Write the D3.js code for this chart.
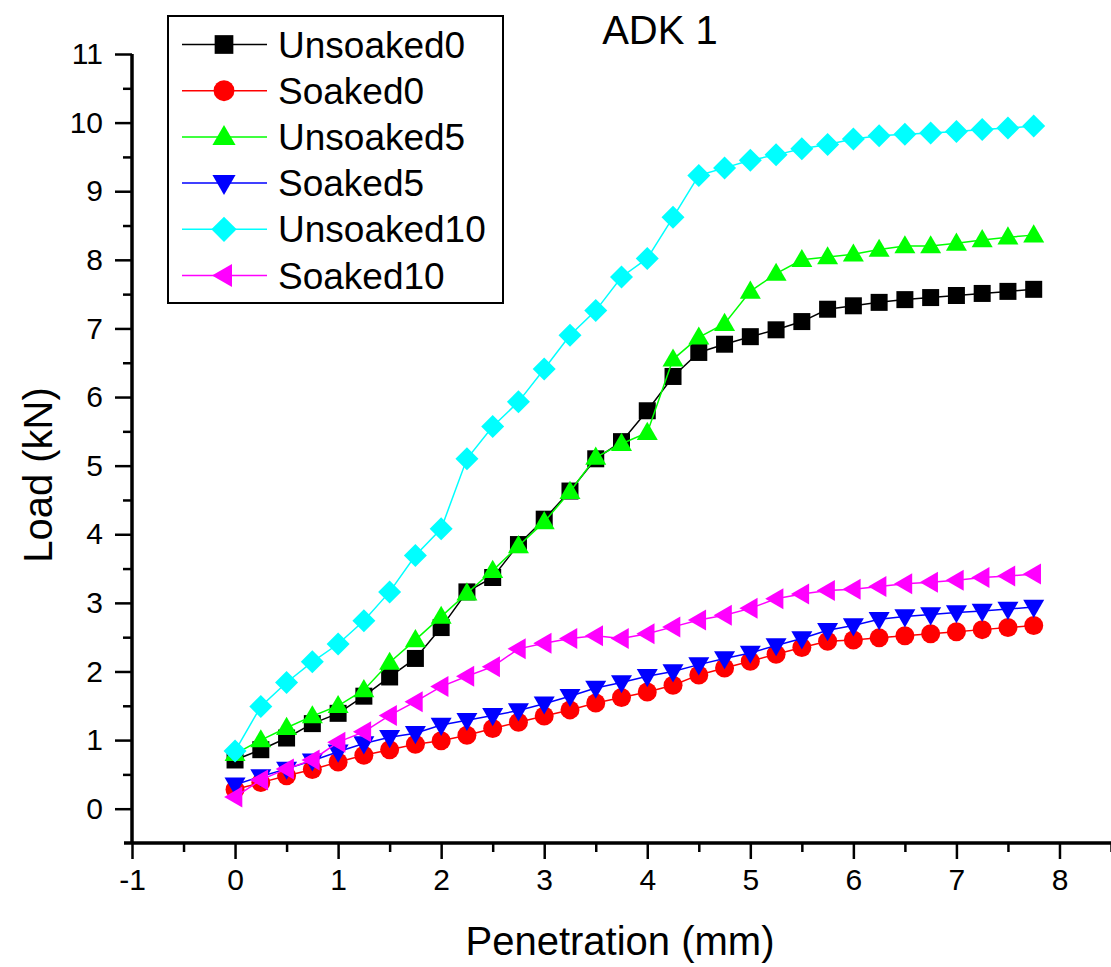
<!DOCTYPE html>
<html>
<head>
<meta charset="utf-8">
<script src="https://cdn.jsdelivr.net/npm/d3@7"></script>
<style>
  body { margin: 0; background: #fff; }
  svg { display: block; font-family: "Liberation Sans", Arial, sans-serif; }
</style>
</head>
<body>
<div id="chart-container"></div>
<script>
// Penetration values (mm)
const penetration = [0, 0.25, 0.5, 0.75, 1, 1.25, 1.5, 1.75, 2, 2.25, 2.5, 2.75, 3, 3.25, 3.5, 3.75,
  4, 4.25, 4.5, 4.75, 5, 5.25, 5.5, 5.75, 6, 6.25, 6.5, 6.75, 7, 7.25, 7.5, 7.75];

// Load values (kN)
const unsoaked0 = [0.71, 0.86, 1.03, 1.24, 1.39, 1.64, 1.92, 2.19, 2.64, 3.16, 3.37, 3.85, 4.22, 4.63, 5.1, 5.35,
  5.8, 6.3, 6.65, 6.77, 6.88, 6.98, 7.1, 7.28, 7.33, 7.38, 7.42, 7.45, 7.48, 7.51, 7.54, 7.57];
const soaked0 = [0.28, 0.38, 0.48, 0.57, 0.68, 0.78, 0.86, 0.94, 0.99, 1.07, 1.17, 1.26, 1.35, 1.44, 1.54, 1.62,
  1.7, 1.8, 1.95, 2.05, 2.15, 2.25, 2.35, 2.44, 2.46, 2.49, 2.52, 2.55, 2.58, 2.61, 2.64, 2.67];
const unsoaked5 = [0.8, 1.0, 1.18, 1.35, 1.5, 1.73, 2.13, 2.46, 2.8, 3.14, 3.47, 3.83, 4.18, 4.62, 5.12, 5.32,
  5.48, 6.55, 6.87, 7.07, 7.54, 7.8, 8.0, 8.04, 8.08, 8.15, 8.2, 8.2, 8.24, 8.29, 8.33, 8.36];
const soaked5 = [0.35, 0.47, 0.58, 0.7, 0.83, 0.95, 1.04, 1.1, 1.22, 1.29, 1.36, 1.43, 1.53, 1.64, 1.76, 1.84,
  1.93, 2.0, 2.1, 2.19, 2.27, 2.38, 2.48, 2.6, 2.67, 2.76, 2.8, 2.83, 2.86, 2.88, 2.91, 2.94];
const unsoaked10 = [0.84, 1.49, 1.84, 2.14, 2.4, 2.74, 3.16, 3.69, 4.08, 5.1, 5.57, 5.93, 6.41, 6.9, 7.26, 7.75,
  8.02, 8.62, 9.23, 9.34, 9.45, 9.53, 9.62, 9.68, 9.76, 9.81, 9.83, 9.85, 9.87, 9.9, 9.92, 9.95];
const soaked10 = [0.17, 0.42, 0.58, 0.71, 0.97, 1.12, 1.36, 1.56, 1.78, 1.93, 2.07, 2.33, 2.41, 2.48, 2.52, 2.48,
  2.55, 2.65, 2.75, 2.82, 2.92, 3.06, 3.13, 3.18, 3.2, 3.24, 3.28, 3.3, 3.33, 3.37, 3.39, 3.42];

const seriesNames = ["Unsoaked0", "Soaked0", "Unsoaked5", "Soaked5", "Unsoaked10", "Soaked10"];
const seriesValues = [unsoaked0, soaked0, unsoaked5, soaked5, unsoaked10, soaked10];
const seriesColors = ["#000000", "#ff0000", "#00ff00", "#0000ff", "#00ffff", "#ff00ff"];

const xTicks = [-1, 0, 1, 2, 3, 4, 5, 6, 7, 8];
const yTicks = [0, 1, 2, 3, 4, 5, 6, 7, 8, 9, 10, 11];

// marker shapes, size = half width
const square = { draw(c, r) { c.rect(-r, -r, 2 * r, 2 * r); } };
const circle = { draw(c, r) { c.moveTo(r, 0); c.arc(0, 0, r, 0, 2 * Math.PI); } };
const triUp = { draw(c, r) { const h = r * 1.73; c.moveTo(0, -h * 0.6); c.lineTo(r, h * 0.4); c.lineTo(-r, h * 0.4); c.closePath(); } };
const triDown = { draw(c, r) { const h = r * 1.73; c.moveTo(0, h * 0.6); c.lineTo(r, -h * 0.4); c.lineTo(-r, -h * 0.4); c.closePath(); } };
const diamond = { draw(c, r) { c.moveTo(0, -r); c.lineTo(r, 0); c.lineTo(0, r); c.lineTo(-r, 0); c.closePath(); } };
const triLeft = { draw(c, r) { const h = r * 1.73; c.moveTo(-h * 0.6, 0); c.lineTo(h * 0.4, -r); c.lineTo(h * 0.4, r); c.closePath(); } };
const seriesShapes = [square, circle, triUp, triDown, diamond, triLeft];
const seriesSizes = [8.5, 9.5, 10.5, 10.5, 11.5, 10.5];

const width = 1111, height = 967;
const svg = d3.select("#chart-container")
  .append("svg")
  .attr("width", width)
  .attr("height", height);

const x = d3.scaleLinear().domain([-1, 8.5]).range([132, 1111]);
const y = d3.scaleLinear().domain([-0.5, 11]).range([843, 54]);

// plain hyphen for negatives, like the original
const fmt = d => String(d);

// minor ticks
svg.append("g")
  .attr("transform", `translate(0,${y(-0.5)})`)
  .call(d3.axisBottom(x).tickValues(d3.range(-0.5, 8.6, 1)).tickSize(9).tickFormat(""))
  .call(g => g.select(".domain").remove())
  .call(g => g.selectAll("line").attr("stroke-width", 2.5));
svg.append("g")
  .attr("transform", `translate(${x(-1)},0)`)
  .call(d3.axisLeft(y).tickValues(d3.range(0.5, 11, 1)).tickSize(9).tickFormat(""))
  .call(g => g.select(".domain").remove())
  .call(g => g.selectAll("line").attr("stroke-width", 2.5));

// X axis
svg.append("g")
  .attr("transform", `translate(0,${y(-0.5)})`)
  .call(d3.axisBottom(x).tickValues(xTicks).tickFormat(fmt).tickSizeInner(16).tickSizeOuter(0).tickPadding(10))
  .call(g => g.select(".domain").attr("stroke-width", 3.5).attr("d", `M124,0H1111`))
  .call(g => g.selectAll("line").attr("stroke-width", 2.5))
  .call(g => g.selectAll("text").attr("fill", "#000").style("font-size", "30px")
    .style("font-family", "'Liberation Sans', Arial, sans-serif"));

// Y axis
svg.append("g")
  .attr("transform", `translate(${x(-1)},0)`)
  .call(d3.axisLeft(y).tickValues(yTicks).tickFormat(fmt).tickSizeInner(17).tickSizeOuter(0).tickPadding(12))
  .call(g => g.select(".domain").attr("stroke-width", 3.5).attr("d", `M0,${y(-0.5)}V${y(11)}`))
  .call(g => g.selectAll("line").attr("stroke-width", 2.5))
  .call(g => g.selectAll("text").attr("fill", "#000").style("font-size", "30px")
    .style("font-family", "'Liberation Sans', Arial, sans-serif"));

// Series
const line = d3.line().x(d => x(d[0])).y(d => y(d[1]));
seriesValues.forEach((vals, i) => {
  const pts = penetration.map((p, j) => [p, vals[j]]);
  const g = svg.append("g");
  g.append("path")
    .datum(pts)
    .attr("fill", "none")
    .attr("stroke", seriesColors[i])
    .attr("stroke-width", 1.5)
    .attr("d", line);
  g.selectAll("path.mark")
    .data(pts)
    .enter().append("path")
    .attr("class", "mark")
    .attr("transform", d => `translate(${x(d[0])},${y(d[1])})`)
    .attr("fill", seriesColors[i])
    .attr("d", d3.symbol().type(seriesShapes[i]).size(seriesSizes[i]));
});

// Legend
const legend = svg.append("g");
legend.append("rect")
  .attr("x", 168).attr("y", 16)
  .attr("width", 335).attr("height", 287)
  .attr("fill", "#fff")
  .attr("stroke", "#000")
  .attr("stroke-width", 2);
seriesNames.forEach((name, i) => {
  const ly = 44.5 + i * 46.2;
  legend.append("line")
    .attr("x1", 182).attr("x2", 267)
    .attr("y1", ly).attr("y2", ly)
    .attr("stroke", seriesColors[i])
    .attr("stroke-width", 1.5);
  legend.append("path")
    .attr("transform", `translate(224,${ly})`)
    .attr("fill", seriesColors[i])
    .attr("d", d3.symbol().type(seriesShapes[i]).size(seriesSizes[i] * 1.1));
  legend.append("text")
    .attr("x", 278).attr("y", ly + 13)
    .style("font-size", "37px")
    .text(name);
});

// Title
svg.append("text")
  .attr("x", 660).attr("y", 44)
  .attr("text-anchor", "middle")
  .style("font-size", "40px")
  .text("ADK 1");

// Axis labels
svg.append("text")
  .attr("x", 620).attr("y", 955)
  .attr("text-anchor", "middle")
  .style("font-size", "40px")
  .text("Penetration (mm)");

svg.append("text")
  .attr("transform", "translate(52,475) rotate(-90)")
  .attr("text-anchor", "middle")
  .style("font-size", "40px")
  .text("Load (kN)");
</script>
</body>
</html>
